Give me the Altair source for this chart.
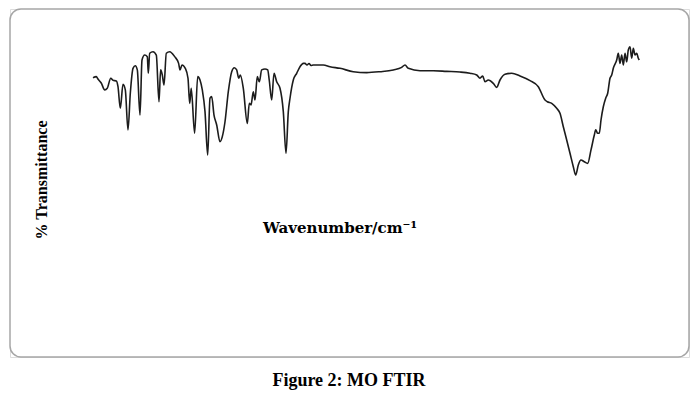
import altair as alt
import pandas as pd

# FTIR spectrum: wavenumber (cm^-1) and % transmittance
wavenumber = [
    406.5, 428, 439, 460, 483, 499, 522, 536.5, 558, 569, 584, 601.5, 616.5, 634, 649,
    666.5, 681.5, 694.5, 712, 725, 742.5, 759.5, 766, 775, 796.5, 818, 835.5, 846, 857,
    868, 883, 905, 937.5, 963, 972, 985, 1006.5, 1024, 1035, 1045, 1067, 1087, 1102,
    1117, 1134.5, 1152, 1167, 1178, 1193, 1210.5, 1232, 1247, 1264.5, 1286, 1308, 1325,
    1340.5, 1353.5, 1364, 1383.5, 1409.5, 1422.5, 1433.5, 1448.5, 1459.5, 1474.5, 1487.5,
    1503, 1524.5, 1542, 1552, 1568, 1583, 1600.5, 1622, 1643.5, 1661, 1676, 1687, 1708.5,
    1730.5, 1752, 1773.5, 1784.5, 1797.5, 1810.5, 1823.5, 1838.5, 1903.5, 1947, 2012,
    2098.5, 2185.5, 2272, 2358.5, 2413, 2434.5, 2456, 2532, 2618.5, 2705.5, 2792, 2857,
    2900.5, 2922, 2939.5, 2954.5, 2976, 3008.5, 3030.5, 3052, 3084.5, 3128, 3182, 3247,
    3301, 3344.5, 3359.5, 3388, 3420.5, 3442, 3463.5, 3485.5, 3507, 3528.5, 3544, 3561,
    3578.5, 3600, 3622, 3643.5, 3665, 3674, 3687, 3697.5, 3708.5, 3723.5, 3739, 3752,
    3767, 3778, 3788.5, 3810.5, 3821, 3832, 3843, 3853.5, 3864.5, 3875.5, 3886, 3897,
    3908, 3918.5, 3929.5, 3940.5, 3951, 3957.5,
]
transmittance = [
    76.4, 77.1, 75.6, 73.1, 68.8, 69.8, 76.1, 74.8, 74.4, 70.8, 57.3, 72.3, 68.8, 43.8, 66.7,
    82.3, 83.9, 81.3, 53.1, 87.5, 90.6, 89.6, 79.2, 91.7, 92.7, 90.6, 61.4, 81.3, 78.1,
    71.9, 91.7, 92.7, 89.6, 85.4, 81.3, 84.4, 82.3, 76.1, 60.4, 69.8, 41.7, 77.1, 75.0,
    68.8, 55.2, 28.1, 63.6, 64.6, 53.1, 46.9, 36.4, 39.6, 48.9, 67.7, 80.2, 82.7,
    81.3, 76.1, 78.1, 69.8, 47.9, 60.4, 59.4, 67.7, 62.5, 77.1, 73.9,
    81.3, 81.9, 81.3, 75.0, 62.5, 79.2, 73.9, 69.8, 55.2, 29.2, 55.2, 63.6, 75.0,
    79.2, 83.3, 85.4, 85.4, 84.4, 85.3, 84.1, 84.4, 84.4, 83.3, 82.3,
    80.2, 79.6, 80.2, 81.3, 82.9, 84.4, 82.3, 80.8, 80.8, 80.4, 80.0, 79.2,
    78.1, 76.1, 77.5, 73.9, 75.0, 72.9, 70.4, 75.0, 78.6, 79.2, 77.5, 74.6,
    70.8, 62.5, 61.4, 60.4, 57.3, 54.2, 45.8, 37.5, 29.2, 20.8, 15.6, 21.9,
    25.0, 23.9, 22.9, 31.3, 40.6, 43.8, 41.7, 41.7, 50.0, 58.3, 63.6, 66.7,
    76.1, 78.1, 82.3, 87.5, 91.7, 85.4, 90.6, 84.4, 91.7, 86.4, 93.8, 95.8,
    88.6, 94.8, 90.6, 91.7, 88.6, 87.5,
]

y_title = "% Transmittance"
x_title = "Wavenumber/cm⁻¹"
caption = "Figure 2: MO FTIR"

df = pd.DataFrame({"wavenumber": wavenumber, "T": transmittance})

frame = alt.Chart(pd.DataFrame({"f": [0]})).mark_rect(
    fill="white", stroke="#a6a6a6", strokeWidth=1.5, cornerRadius=11
).encode(x=alt.value(0), x2=alt.value(679), y=alt.value(0), y2=alt.value(348))

line = alt.Chart(df).mark_line(color="#1c1c1c", strokeWidth=1.6, interpolate="monotone").encode(
    x=alt.X("wavenumber:Q", axis=None,
            scale=alt.Scale(domain=[400, 4000], range=[82, 635.85], zero=False, nice=False)),
    y=alt.Y("T:Q", axis=None,
            scale=alt.Scale(domain=[0, 100], range=[191, 31], zero=False, nice=False)),
    order="wavenumber:Q",
)

serif = "Liberation Serif"

ylab = alt.Chart(pd.DataFrame({"t": [y_title]})).mark_text(
    font=serif, fontSize=16, fontWeight="bold", angle=270, color="#000",
    align="center", baseline="middle",
).encode(text="t:N", x=alt.value(32), y=alt.value(171))

xlab = alt.Chart(pd.DataFrame({"t": [x_title]})).mark_text(
    font="DejaVu Serif", fontSize=15, fontWeight="bold", color="#000",
    align="center", baseline="middle",
).encode(text="t:N", x=alt.value(330), y=alt.value(219))

cap = alt.Chart(pd.DataFrame({"t": [caption]})).mark_text(
    font=serif, fontSize=18, fontWeight="bold", color="#000",
    align="center", baseline="middle",
).encode(text="t:N", x=alt.value(339), y=alt.value(372))

chart = alt.layer(frame, line, ylab, xlab, cap).properties(
    width=679, height=348,
    padding={"left": 2, "top": 1, "right": 1, "bottom": 33},
    autosize=alt.AutoSizeParams(type="none"),
).configure_view(
    stroke=None, fill="white"
).configure(background="white")

chart.save("out.html", embed_options={"renderer": "svg", "actions": False})
